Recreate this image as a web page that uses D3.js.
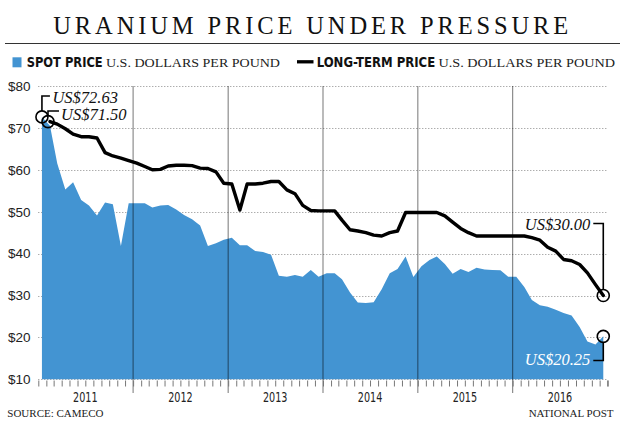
<!DOCTYPE html>
<html><head><meta charset="utf-8">
<script src="https://cdn.jsdelivr.net/npm/d3@7"></script>
<style>html,body{margin:0;padding:0;background:#fff;} svg{display:block;}</style>
</head><body><svg id="chart" width="620" height="434"></svg>
<script>
// ---------- DATA ----------
const titleText = "URANIUM PRICE UNDER PRESSURE";
const years = [2011, 2012, 2013, 2014, 2015, 2016];
const yTicks = [10, 20, 30, 40, 50, 60, 70, 80];
const yTickLabels = ["$10", "$20", "$30", "$40", "$50", "$60", "$70", "$80"];
// monthly spot price, Jan 2011 - Dec 2016 (US$/lb)
const spotPrice = [
  72.63, 70.5, 61.5, 55.3, 57.0, 52.8, 51.5, 49.1, 52.2, 51.8, 41.8, 52.0,
  52.0, 52.0, 51.0, 51.5, 51.6, 50.5, 49.2, 48.2, 46.7, 41.8, 42.5, 43.3,
  43.8, 42.0, 42.0, 40.6, 40.4, 39.7, 34.7, 34.5, 34.9, 34.5, 36.1, 34.5,
  35.3, 35.3, 33.9, 30.7, 28.3, 28.2, 28.4, 31.5, 35.3, 36.3, 39.3, 34.4,
  37.0, 38.5, 39.3, 37.5, 35.2, 36.3, 35.6, 36.6, 36.2, 36.1, 36.0, 34.5,
  34.5, 32.0, 28.9, 27.7, 27.3, 26.6, 25.8, 25.2, 22.5, 19.0, 18.3, 20.25
];
// monthly long-term price, Feb 2011 - Dec 2016 (US$/lb)
const longTermPrice = [
  71.5, 70.9, 69.8, 68.5, 67.9, 67.9, 67.6, 64.1, 63.3, 62.8, 62.2,
  61.6, 60.8, 60.0, 60.1, 60.9, 61.1, 61.1, 61.0, 60.4, 60.3, 59.5, 56.8,
  56.6, 50.4, 56.6, 56.6, 56.8, 57.2, 57.2, 55.2, 54.3, 51.5, 50.3, 50.2,
  50.2, 50.2, 48.0, 45.7, 45.4, 45.0, 44.4, 44.2, 45.0, 45.4, 49.8, 49.8,
  49.8, 49.8, 49.8, 49.0, 47.5, 46.0, 45.0, 44.2, 44.2, 44.2, 44.2, 44.2,
  44.2, 44.2, 43.8, 43.2, 41.5, 40.6, 38.6, 38.3, 37.4, 35.4, 32.6, 30.0
];
const spotStart = new Date(2011, 0, 15);
const longTermStart = new Date(2011, 1, 15);
const legendLabels = ["SPOT PRICE", "LONG-TERM PRICE"];
const unitLabel = "U.S. DOLLARS PER POUND";
const sourceText = "SOURCE: CAMECO";
const creditText = "NATIONAL POST";

// ---------- CHART ----------
const svg = d3.select("#chart");
const blue = "#4394d2";
const serif = "'Liberation Serif','Times New Roman',serif";
const sans = "'Liberation Sans',Arial,sans-serif";
const narrow = "'Liberation Sans Narrow','DejaVu Sans Condensed','Liberation Sans',sans-serif";

const x = d3.scaleTime().domain([new Date(2011, 0, 1), new Date(2017, 0, 1)]).range([38.3, 607.7]);
const y = d3.scaleLinear().domain([10, 80]).range([379.3, 86]);

const spot = spotPrice.map((v, i) => ({date: d3.timeMonth.offset(spotStart, i), v}));
const lt = longTermPrice.map((v, i) => ({date: d3.timeMonth.offset(longTermStart, i), v}));

// Title
svg.append("text").attr("x", 53.3).attr("y", 34.3)
  .attr("textLength", 515).attr("lengthAdjust", "spacing")
  .style("font-family", serif).style("font-size", "24.5px").attr("fill", "#111")
  .text(titleText);
svg.append("line").attr("x1", 5).attr("x2", 620).attr("y1", 43.5).attr("y2", 43.5)
  .attr("stroke", "#333").attr("stroke-width", 1);

// Legend
svg.append("rect").attr("x", 12.5).attr("y", 57.3).attr("width", 9).attr("height", 10).attr("fill", blue);
svg.append("text").attr("x", 26.7).attr("y", 67.3).attr("textLength", 76).attr("lengthAdjust", "spacingAndGlyphs")
  .style("font-family", narrow).style("font-weight", "bold").style("font-size", "14px").attr("fill", "#111")
  .text(legendLabels[0]);
svg.append("text").attr("x", 106).attr("y", 67.3).attr("textLength", 174).attr("lengthAdjust", "spacingAndGlyphs")
  .style("font-family", serif).style("font-size", "13px").attr("fill", "#222")
  .text(unitLabel);
svg.append("line").attr("x1", 297).attr("x2", 313.5).attr("y1", 61.8).attr("y2", 61.8)
  .attr("stroke", "#000").attr("stroke-width", 3.3);
svg.append("text").attr("x", 316.7).attr("y", 67.3).attr("textLength", 118.5).attr("lengthAdjust", "spacingAndGlyphs")
  .style("font-family", narrow).style("font-weight", "bold").style("font-size", "14px").attr("fill", "#111")
  .text(legendLabels[1]);
svg.append("text").attr("x", 438.5).attr("y", 67.3).attr("textLength", 176.5).attr("lengthAdjust", "spacingAndGlyphs")
  .style("font-family", serif).style("font-size", "13px").attr("fill", "#222")
  .text(unitLabel);

// Grid
const [x0, x1] = x.range();
svg.append("g").selectAll("line").data(yTicks).join("line")
  .attr("x1", x0).attr("x2", x1)
  .attr("y1", d => Math.round(y(d)) + 0.5).attr("y2", d => Math.round(y(d)) + 0.5)
  .attr("stroke", "#8a8a8a").attr("stroke-width", 1).attr("stroke-dasharray", "1,2");

// Y labels
svg.append("g").selectAll("text").data(yTicks).join("text")
  .attr("x", 30.5).attr("y", d => y(d)).attr("dy", "0.36em").attr("text-anchor", "end")
  .style("font-family", sans).style("font-size", "13.5px").attr("fill", "#222")
  .text((d, i) => yTickLabels[i]);

// Spot area
const area = d3.area().x(d => x(d.date)).y0(y(10)).y1(d => y(d.v));
svg.append("path").datum(spot).attr("d", area).attr("fill", blue);

// Year dividers
svg.append("g").selectAll("line").data(years.slice(1)).join("line")
  .attr("x1", d => x(new Date(d, 0, 1))).attr("x2", d => x(new Date(d, 0, 1)))
  .attr("y1", 86).attr("y2", 393)
  .attr("stroke", "#000").attr("stroke-opacity", 0.45).attr("stroke-width", 1.2);

// Month ticks
const xAxis = d3.axisBottom(x).ticks(d3.timeMonth.every(1)).tickSize(6).tickFormat("");
const axG = svg.append("g").attr("transform", "translate(0,380.5)").call(xAxis);
axG.select(".domain").remove();
axG.selectAll(".tick line").attr("stroke", "#777");
axG.append("line").attr("x1", x1).attr("x2", x1).attr("y1", 0).attr("y2", 6).attr("stroke", "#777");

// Year labels (condensed)
svg.append("g").selectAll("text").data(years).join("text")
  .attr("x", d => x(new Date(d, 6, 1)) - 12.2).attr("y", 401.7)
  .attr("textLength", 24.5).attr("lengthAdjust", "spacingAndGlyphs")
  .style("font-family", narrow).style("font-size", "14.5px").attr("fill", "#222")
  .text(d => d);

// Long-term line
const line = d3.line().x(d => x(d.date)).y(d => y(d.v));
svg.append("path").datum(lt).attr("d", line).attr("fill", "none")
  .attr("stroke", "#000").attr("stroke-width", 3.4).attr("stroke-linejoin", "round").attr("stroke-linecap", "round");

// Annotations
const ann = svg.append("g");
const fmt = v => "US$" + v.toFixed(2);
const r = 6;
function circle(cx, cy) {
  ann.append("circle").attr("cx", cx).attr("cy", cy).attr("r", r)
    .attr("fill", "none").attr("stroke", "#000").attr("stroke-width", 1.6);
}
function leader(pts) {
  ann.append("path").attr("d", d3.line()(pts)).attr("fill", "none").attr("stroke", "#000").attr("stroke-width", 1.6);
}
function label(tx, ty, anchor, txt, color) {
  ann.append("text").attr("x", tx).attr("y", ty).attr("text-anchor", anchor)
    .style("font-family", serif).style("font-style", "italic").style("font-size", "16.5px")
    .attr("fill", color).text(txt);
}
{
  const d = spot[0], cx = x(d.date), cy = y(d.v);
  leader([[cx, cy - r], [cx, 96], [cx + 8, 96]]);
  circle(cx, cy);
  label(cx + 10.5, 103, "start", fmt(d.v), "#111");
}
{
  const d = lt[0], cx = x(d.date) - 2, cy = y(d.v);
  leader([[cx, cy - r], [cx, 111], [cx + 11, 111]]);
  circle(cx, cy);
  label(cx + 13, 120, "start", fmt(d.v), "#111");
}
{
  const d = lt[lt.length - 1], cx = x(d.date), cy = y(d.v);
  leader([[cx, cy - r], [cx, 223.5], [cx - 10, 223.5]]);
  circle(cx, cy);
  label(cx - 13, 230, "end", fmt(d.v), "#111");
}
{
  const d = spot[spot.length - 1], cx = x(d.date), cy = y(d.v);
  leader([[cx, cy + r], [cx, 360.5], [cx - 10, 360.5]]);
  circle(cx, cy);
  label(cx - 13, 365, "end", fmt(d.v), "#fff");
}

// Footer
svg.append("text").attr("x", 7.3).attr("y", 417).style("font-family", serif).style("font-size", "11px")
  .attr("fill", "#222").text(sourceText);
svg.append("text").attr("x", 613.5).attr("y", 417).attr("text-anchor", "end").style("font-family", serif)
  .style("font-size", "11px").attr("fill", "#222").text(creditText);
</script></body></html>
